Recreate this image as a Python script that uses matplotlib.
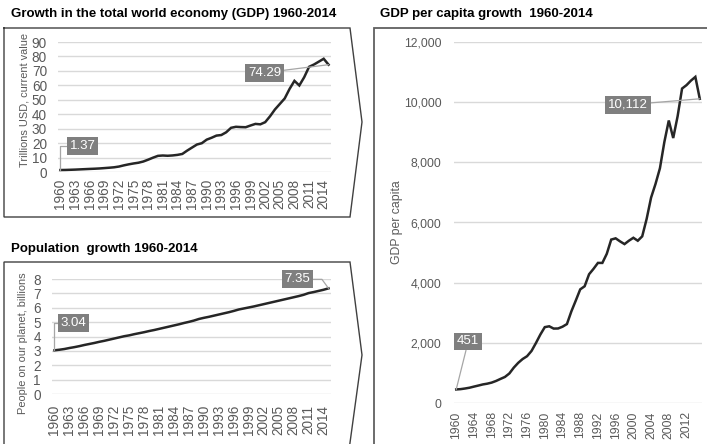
import matplotlib
matplotlib.use("Agg")
import matplotlib.pyplot as plt
from matplotlib.lines import Line2D
from matplotlib.ticker import FuncFormatter

plt.rcParams['font.family'] = ['Liberation Sans', 'DejaVu Sans']

# World Bank figures, 1960-2015
years = list(range(1960, 2016))

gdp_trillions = [
    1.37, 1.42, 1.53, 1.65, 1.81, 1.97, 2.13, 2.27, 2.45, 2.70,
    2.96, 3.26, 3.77, 4.59, 5.30, 5.91, 6.42, 7.26, 8.54, 9.93,
    11.18, 11.42, 11.24, 11.46, 11.85, 12.49, 14.82, 16.93, 19.02, 19.94,
    22.40, 23.70, 25.20, 25.60, 27.50, 30.60, 31.30, 31.10, 31.00, 32.20,
    33.30, 33.00, 34.50, 38.60, 43.30, 47.10, 50.90, 57.50, 63.10, 59.90,
    65.60, 72.80, 74.40, 76.40, 78.40, 74.29,
]

population_billions = [
    3.04, 3.08, 3.13, 3.20, 3.26, 3.33, 3.41, 3.48, 3.55, 3.63,
    3.70, 3.78, 3.86, 3.94, 4.02, 4.08, 4.16, 4.23, 4.30, 4.38,
    4.45, 4.53, 4.61, 4.69, 4.77, 4.85, 4.94, 5.02, 5.11, 5.22,
    5.30, 5.37, 5.45, 5.53, 5.61, 5.69, 5.78, 5.88, 5.95, 6.02,
    6.09, 6.17, 6.25, 6.33, 6.41, 6.49, 6.57, 6.65, 6.73, 6.81,
    6.90, 7.02, 7.09, 7.17, 7.25, 7.35,
]

gdp_per_capita = [
    451, 461, 482, 508, 545, 580, 617, 642, 678, 733,
    801, 866, 982, 1176, 1335, 1462, 1556, 1729, 1993, 2276,
    2522, 2550, 2474, 2477, 2536, 2624, 3045, 3406, 3777, 3881,
    4280, 4459, 4657, 4656, 4960, 5432, 5474, 5372, 5282, 5395,
    5492, 5394, 5540, 6120, 6826, 7281, 7803, 8676, 9391, 8808,
    9537, 10453, 10566, 10716, 10840, 10112,
]

W, H = 707, 444
fig = plt.figure(figsize=(W / 100, H / 100), dpi=100)

LINE = '#262626'
GRID = '#d9d9d9'
TICK = '#595959'
LABEL_BOX = '#7f7f7f'
LEADER = '#a6a6a6'


def px(x, y):
    """pixel coords (origin top-left) -> figure fraction"""
    return x / W, 1 - y / H


def px_axes(left, top, right, bottom):
    return fig.add_axes([left / W, 1 - bottom / H, (right - left) / W, (bottom - top) / H])


def outline(points, color='#404040', lw=1.0):
    xs = [px(x, y)[0] for x, y in points]
    ys = [px(x, y)[1] for x, y in points]
    fig.add_artist(Line2D(xs, ys, color=color, lw=lw, transform=fig.transFigure,
                          solid_joinstyle='miter'))


def style_axes(ax, values, ymax, ystep, year_step, ypad, xpad, fs):
    idx = list(range(len(years)))
    ax.plot(idx, values, color=LINE, lw=1.8, solid_joinstyle='miter')
    ax.set_xlim(-0.5, len(years) - 0.5)
    ax.set_ylim(0, ymax)
    ax.set_yticks(range(0, ymax + 1, ystep))
    ticks = [i for i, y in enumerate(years) if (y - 1960) % year_step == 0]
    ax.set_xticks(ticks)
    ax.set_xticklabels([str(years[i]) for i in ticks], rotation=90)
    ax.tick_params(axis='y', length=0, pad=ypad, labelsize=fs, labelcolor=TICK)
    ax.tick_params(axis='x', length=0, pad=xpad, labelsize=fs, labelcolor=TICK)
    ax.yaxis.grid(True, color=GRID, lw=1.0)
    ax.set_axisbelow(True)
    for s in ax.spines.values():
        s.set_visible(False)
    ax.patch.set_alpha(0)


def data_label(ax, i, value, text, dx, dy, conn='arc3'):
    ax.annotate(text, xy=(i, value), xytext=(dx, dy), textcoords='offset pixels',
                ha='center', va='center', color='white', fontsize=9.5,
                bbox=dict(boxstyle='square,pad=0.22', fc=LABEL_BOX, ec='none'),
                arrowprops=dict(arrowstyle='-', color=LEADER, lw=0.9,
                                shrinkA=0, shrinkB=0, connectionstyle=conn))


# panel frames
outline([(4, 28), (350, 28), (362, 122), (350, 217), (4, 217), (4, 28)])
outline([(4, 450), (4, 262), (350, 262), (362, 355), (349, 450)])
outline([(374, 450), (374, 28), (710, 28)], color='#606060', lw=1.3)

# titles
fig.text(*px(11, 14), 'Growth in the total world economy (GDP) 1960-2014',
         fontsize=9.5, fontweight='bold', va='center', ha='left')
fig.text(*px(11, 249), 'Population  growth 1960-2014',
         fontsize=9.5, fontweight='bold', va='center', ha='left')
fig.text(*px(380, 14), 'GDP per capita growth  1960-2014',
         fontsize=9.5, fontweight='bold', va='center', ha='left')

# total world GDP
ax1 = px_axes(58, 42, 331, 172)
style_axes(ax1, gdp_trillions, 90, 10, 3, ypad=8, xpad=5, fs=9.8)
ax1.set_ylabel('Trillions USD, current value', fontsize=7.9, color=TICK)
ax1.yaxis.set_label_coords((30 - 58) / 273, (172 - 100) / 130)
data_label(ax1, 0, gdp_trillions[0], f'{gdp_trillions[0]:.2f}', 22, 24,
           conn='angle,angleA=0,angleB=90,rad=0')
data_label(ax1, len(years) - 1, gdp_trillions[-1], f'{gdp_trillions[-1]:.2f}', -64, -8)

# population
ax2 = px_axes(52, 279, 331, 394)
style_axes(ax2, population_billions, 8, 1, 3, ypad=8, xpad=8, fs=9.8)
ax2.set_ylabel('People on our planet, billions', fontsize=7.9, color=TICK)
ax2.yaxis.set_label_coords((28 - 52) / 279, (394 - 343) / 115)
data_label(ax2, 0, population_billions[0], f'{population_billions[0]:.2f}', 19, 27,
           conn='angle,angleA=0,angleB=90,rad=0')
data_label(ax2, len(years) - 1, population_billions[-1], f'{population_billions[-1]:.2f}', -31, 9,
           conn='angle,angleA=0,angleB=126,rad=0')

# GDP per capita
ax3 = px_axes(454, 42, 702, 403)
style_axes(ax3, gdp_per_capita, 12000, 2000, 4, ypad=9, xpad=6, fs=8.8)
ax3.yaxis.set_major_formatter(FuncFormatter(lambda v, p: f'{v:,.0f}'))
ax3.set_ylabel('GDP per capita', fontsize=8.8, color=TICK)
ax3.yaxis.set_label_coords((403 - 454) / 248, (403 - 222) / 361)
data_label(ax3, 0, gdp_per_capita[0], f'{gdp_per_capita[0]:,}', 12, 48)
data_label(ax3, len(years) - 1, gdp_per_capita[-1], f'{gdp_per_capita[-1]:,}', -72, -6)

fig.savefig('out.png', dpi=100)
